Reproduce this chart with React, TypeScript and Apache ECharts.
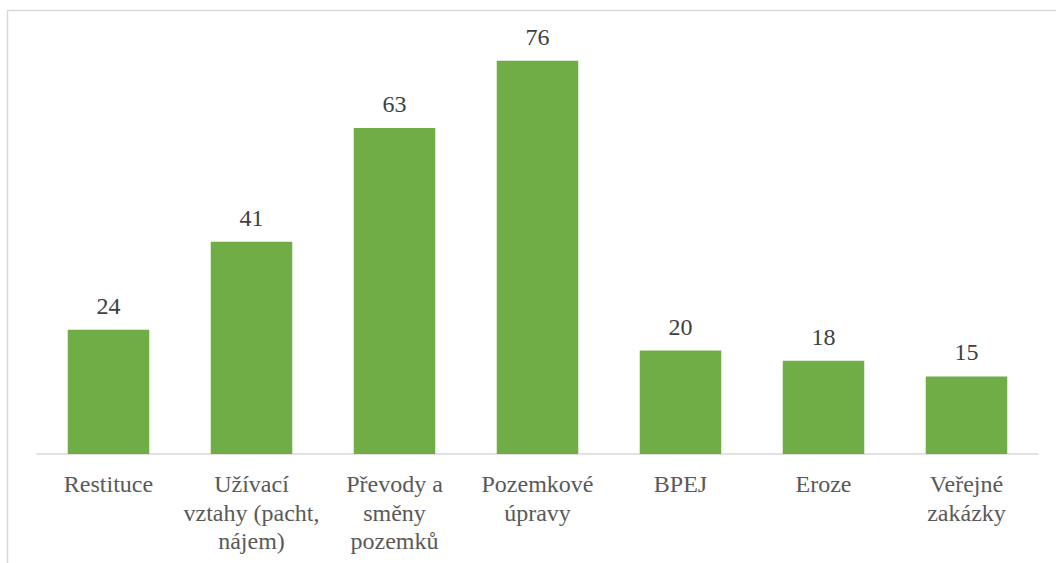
import React, { useEffect, useRef } from "react";
import * as echarts from "echarts";

const categories: string[] = [
  "Restituce",
  "Užívací\nvztahy (pacht,\nnájem)",
  "Převody a\nsměny\npozemků",
  "Pozemkové\núpravy",
  "BPEJ",
  "Eroze",
  "Veřejné\nzakázky",
];
const values: number[] = [24, 41, 63, 76, 20, 18, 15];

const SERIF = "Liberation Serif";

export default function App() {
  const ref = useRef<HTMLDivElement>(null);
  useEffect(() => {
    if (!ref.current) return;
    const chart = echarts.init(ref.current, null, { renderer: "svg" });
    chart.setOption({
      animation: false,
      backgroundColor: "#ffffff",
      textStyle: { fontFamily: SERIF },
      graphic: [
        {
          type: "rect",
          shape: { x: 7.5, y: 10.5, width: 1100, height: 600 },
          style: { fill: "none", stroke: "#d9d9d9", lineWidth: 1.5 },
          silent: true,
        },
      ],
      grid: { left: 37, right: 18, top: 40, bottom: 109, containLabel: false },
      xAxis: {
        type: "category",
        data: categories,
        axisLine: { show: true, lineStyle: { color: "#d9d9d9", width: 1.5 } },
        axisTick: { show: false },
        axisLabel: {
          interval: 0,
          color: "#595959",
          fontFamily: SERIF,
          fontSize: 24,
          lineHeight: 28.5,
          margin: 16,
        },
      },
      yAxis: {
        type: "value",
        min: 0,
        max: 80,
        show: false,
        splitLine: { show: false },
      },
      series: [
        {
          type: "bar",
          data: values,
          barCategoryGap: "43%",
          itemStyle: { color: "#70ad47" },
          label: {
            show: true,
            position: "top",
            distance: 12,
            color: "#404040",
            fontFamily: SERIF,
            fontSize: 24,
          },
        },
      ],
    });
    return () => chart.dispose();
  }, []);
  return (
    <div
      ref={ref}
      style={{ position: "fixed", left: 0, top: 0, width: 1056, height: 563 }}
    />
  );
}
